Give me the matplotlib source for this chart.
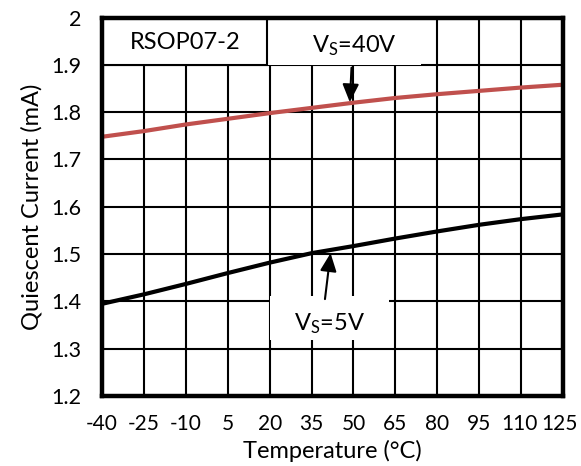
import matplotlib
matplotlib.use("Agg")
import matplotlib.pyplot as plt
import matplotlib.transforms as mtransforms
from matplotlib.patches import Rectangle

plt.rcParams["font.family"] = ["Lato", "DejaVu Sans"]
plt.rcParams["mathtext.fontset"] = "custom"
plt.rcParams["mathtext.rm"] = "Lato"
plt.rcParams["mathtext.it"] = "Lato"
plt.rcParams["axes.unicode_minus"] = False

# temperature (C) and quiescent current (mA)
temps = [-40, -25, -10, 5, 20, 35, 50, 65, 80, 95, 110, 125]
iq_40v = [1.748, 1.760, 1.774, 1.786, 1.798, 1.809, 1.820, 1.830, 1.838, 1.845, 1.852, 1.858]
iq_5v = [1.395, 1.415, 1.437, 1.460, 1.482, 1.502, 1.517, 1.533, 1.548, 1.562, 1.574, 1.584]

x_ticks = temps
y_ticks = [1.2, 1.3, 1.4, 1.5, 1.6, 1.7, 1.8, 1.9, 2.0]
y_labels = ["1.2", "1.3", "1.4", "1.5", "1.6", "1.7", "1.8", "1.9", "2"]

fig = plt.figure(figsize=(5.81, 4.66), dpi=100)
ax = fig.add_axes([0.1756, 0.150, 0.7934, 0.8124])

ax.plot(temps, iq_40v, color="#C0504D", lw=3.0, zorder=4, solid_capstyle="butt")
ax.plot(temps, iq_5v, color="black", lw=3.0, zorder=4, solid_capstyle="butt")

ax.set_xlim(-40, 125)
ax.set_ylim(1.2, 2.0)
ax.set_xticks(x_ticks)
ax.set_yticks(y_ticks)
ax.set_yticklabels(y_labels)
ax.grid(True, color="black", lw=1.5, zorder=1)
ax.set_axisbelow(True)
ax.tick_params(length=0, labelsize=15.5, colors="black")
ax.tick_params(axis="x", labelsize=15)
ax.tick_params(axis="y", pad=15)
ax.tick_params(axis="x", pad=13)
for s in ax.spines.values():
    s.set_linewidth(3.2)
    s.set_zorder(6)

# nudge the last two x labels inward a little, as in the reference
xl = ax.get_xticklabels()
for lab, dx in ((xl[-2], -1.0), (xl[-1], -2.5)):
    lab.set_transform(lab.get_transform() + mtransforms.ScaledTranslation(dx / 72, 0, fig.dpi_scale_trans))

ax.set_xlabel("Temperature (°C)", fontsize=17, labelpad=4)
ax.set_ylabel("Quiescent Current (mA)", fontsize=17, labelpad=6)

# device label box
ax.add_patch(Rectangle((-40, 1.9), 59.2, 0.1, facecolor="white",
                       edgecolor="black", lw=1.5, zorder=5))
ax.text(-10.4, 1.948, "RSOP07-2", fontsize=17, ha="center", va="center", zorder=6)

# white backgrounds behind the curve labels
ax.add_patch(Rectangle((19.2, 1.9), 54.8, 0.1, facecolor="white",
                       edgecolor="none", zorder=3))
ax.add_patch(Rectangle((20.3, 1.318), 42.3, 0.093, facecolor="white",
                       edgecolor="none", zorder=3))

ax.text(50.5, 1.94, r"V$_\mathrm{S}$=40V", fontsize=17, ha="center", va="center", zorder=6)
ax.text(41.5, 1.352, r"V$_\mathrm{S}$=5V", fontsize=17, ha="center", va="center", zorder=6)

arrow = dict(arrowstyle="-|>,head_width=0.5,head_length=1.1", color="black", lw=1.5,
             shrinkA=0, shrinkB=0)
ax.annotate("", xy=(48.7, 1.821), xytext=(49.3, 1.894), arrowprops=arrow, zorder=6)
ax.annotate("", xy=(41.8, 1.502), xytext=(39.8, 1.405), arrowprops=arrow, zorder=6)

fig.savefig("out.png", dpi=100)
